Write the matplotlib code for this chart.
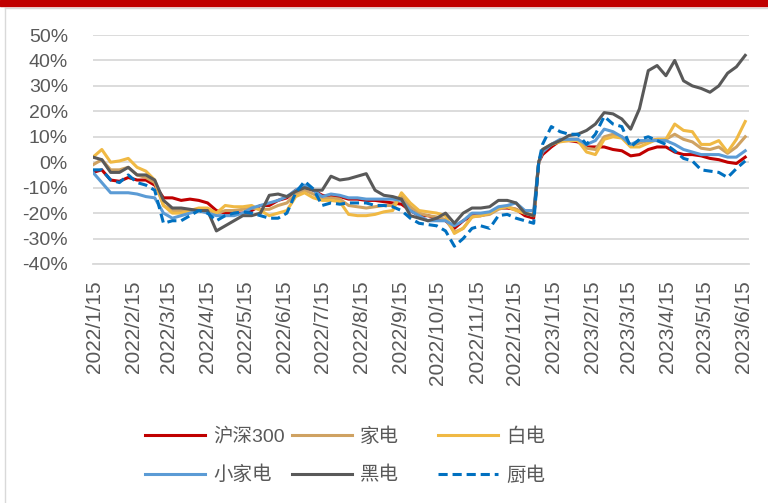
import matplotlib
matplotlib.use('Agg')
import matplotlib.pyplot as plt
from matplotlib.patches import Rectangle
from matplotlib.lines import Line2D
import pandas as pd

plt.rcParams['font.family'] = ['Liberation Sans', 'Noto Sans CJK SC', 'DejaVu Sans']

# weekly points (Fridays) plus the first trading day of 2023
dates = list(pd.date_range('2022-01-14', '2023-06-16', freq='W-FRI'))
dates.insert(51, pd.Timestamp('2023-01-03'))

hs300 = [-4, -3, -7, -7.5, -6, -7, -7, -9, -14, -14,
         -15, -14.5, -15, -16, -19, -20, -20, -20, -19, -17,
         -17, -15, -14, -11, -10, -11, -13, -13.5, -13.5, -14.5,
         -14.5, -15, -15, -15.5, -16, -16.5, -19, -21, -21, -22,
         -23, -26, -23, -21, -21, -20, -18, -18, -18.5, -21,
         -22, 0,
         3, 6, 8.5, 8.5, 8, 6, 6, 6,
         5, 4.5, 2.5, 3, 5, 6, 6, 4, 3, 3,
         2.5, 1.5, 1, 0, -0.5, 2]
jiadian = [-1, 1, -3, -3, -2, -5, -6, -8, -17, -19,
           -19, -19, -18.5, -19, -20, -19, -19, -18.5, -18, -18.5,
           -18.5, -17, -16, -12.5, -11, -12.5, -14.5, -14, -14.5, -17,
           -17.5, -18, -17.5, -17, -17, -13.5, -17.5, -20, -21, -21.5,
           -22.5, -27.5, -26, -21.5, -21, -20.5, -18.5, -17.5, -18.5, -20,
           -21, 0,
           4.5, 7, 8.5, 9, 9, 5.5, 5, 10,
           11, 10, 6.5, 7.5, 8.5, 9, 9, 11, 9, 8,
           5.5, 5, 6, 3.5, 6, 10]
baidian = [2, 5, 0, 0.5, 1.5, -2, -3.5, -7, -17, -20,
           -20, -19, -18, -18, -20, -17, -17.5, -17.5, -17, -19,
           -21, -20, -19, -13.5, -12, -14, -15, -15, -15.5, -20.5,
           -21, -21, -20.5, -19.5, -19, -12, -16, -19, -19.5, -20,
           -21, -28, -26, -21.5, -21, -20, -18, -17.5, -19, -20,
           -21, 0,
           5, 7, 8, 8.5, 8.5, 4, 3, 9,
           10, 9.5, 6, 6, 7.5, 9, 9, 15, 12.5, 12,
           7, 7, 8.5, 4, 9, 16]
xiaojiadian = [-4, -8, -12, -12, -12, -12.5, -13.5, -14, -20, -22,
               -21, -20, -19, -20, -21, -21, -21, -20, -18, -17,
               -16, -15, -13.5, -11, -9, -11, -13.5, -12.5, -13, -14,
               -14, -14.5, -14.5, -14.5, -14.5, -15, -19, -21, -23, -23,
               -23, -25, -23, -20, -20, -19.5, -17.5, -17, -16, -19,
               -19, 0,
               4, 7, 9, 9, 9, 7, 8.5, 13,
               12, 10, 7, 8.5, 8.5, 8.5, 8.5, 7, 5, 4,
               3, 3, 3, 2, 2, 4.5]
heidian = [2, 1, -4, -4, -2, -5, -5, -7, -15, -18,
           -18, -18.5, -19, -19, -27, -25, -23, -21, -21, -20,
           -13, -12.5, -13.5, -11.5, -10, -11, -11, -5.5, -7, -6.5,
           -5.5, -4.5, -11, -13, -13.5, -14.5, -21, -22, -23, -22,
           -20, -24, -20, -18, -18, -17.5, -15, -15, -16, -20,
           -21, 0,
           5, 7, 8.5, 10.5, 11, 12.5, 15, 19.5,
           19, 17, 13, 21, 36, 38, 34, 40, 32, 30,
           29, 27.5, 30, 35, 37.5, 42]
chudian = [-3, -3, -7, -8, -5, -8, -9, -11, -24, -23,
           -23, -21, -19, -20, -23, -21, -20, -19.5, -20, -21,
           -22, -22, -20, -12, -7.5, -10.5, -17, -16, -16.5, -16,
           -16, -16, -17, -17, -17.5, -19, -22, -24, -24.5, -25,
           -27, -33, -30, -26, -25, -26, -21, -20.5, -22, -23,
           -24, 0,
           7, 14, 12, 11, 11, 7, 11, 18,
           15, 14, 6, 9, 10, 8.5, 7, 4.5, 1.5, 0.5,
           -3, -3.5, -4, -6, -2.5, 0.5]

names = ['沪深300', '家电', '白电', '小家电', '黑电', '厨电']
tick_dates = pd.date_range('2022-01-01', '2023-06-01', freq='MS') + pd.Timedelta(days=14)
tick_labels = ['%d/%d/15' % (d.year, d.month) for d in tick_dates]

fig = plt.figure(figsize=(7.68, 5.03), dpi=100)
fig.add_artist(Rectangle((0, 1 - 6 / 503), 1, 6 / 503, transform=fig.transFigure,
                         color='#C00000', zorder=10))
fig.add_artist(Line2D([5 / 768, 1], [1 - 8 / 503] * 2, transform=fig.transFigure,
                      color='#D9D9D9', lw=1))
fig.add_artist(Line2D([5 / 768] * 2, [0, 1 - 8 / 503], transform=fig.transFigure,
                      color='#D9D9D9', lw=1))

ax = fig.add_axes([93 / 768, (503 - 264) / 503, 656 / 768, 229 / 503])
lw = 2.2
l1, = ax.plot(dates, hs300, color='#C00000', lw=lw)
l2, = ax.plot(dates, jiadian, color='#CFA262', lw=lw)
l3, = ax.plot(dates, baidian, color='#F0B944', lw=lw)
l4, = ax.plot(dates, xiaojiadian, color='#5B9BD5', lw=lw)
l5, = ax.plot(dates, heidian, color='#595959', lw=lw)
l6, = ax.plot(dates, chudian, color='#0070C0', lw=lw, ls=(0, (3, 1.6)))
lines = [l1, l2, l3, l4, l5, l6]

ax.set_ylim(-40, 50)
ax.set_yticks(range(-40, 51, 10))
ax.set_yticklabels(['%d%%' % v for v in range(-40, 51, 10)])
ax.set_xlim(pd.Timestamp('2022-01-14'), pd.Timestamp('2023-06-19'))
ax.set_xticks(tick_dates)
ax.set_xticklabels(tick_labels, rotation=90)
ax.grid(axis='y', color='#D9D9D9', lw=1.3)
ax.set_axisbelow(True)
for s in ['top', 'right', 'left']:
    ax.spines[s].set_visible(False)
ax.spines['bottom'].set_color('#D9D9D9')
ax.spines['bottom'].set_linewidth(1.3)
ax.tick_params(length=0, labelsize=14, labelcolor='#595959')
ax.tick_params(axis='x', labelsize=15, pad=12)
ax.tick_params(axis='y', pad=18)

col_x = [145, 292, 438]
for j in range(3):
    fig.legend(handles=[lines[j], lines[j + 3]], labels=[names[j], names[j + 3]],
               loc='center left', bbox_to_anchor=(col_x[j] / 768, 1 - 456 / 503),
               frameon=False, fontsize=14, handlelength=3.1, handletextpad=0.4,
               labelspacing=1.05, borderpad=0, borderaxespad=0, labelcolor='#595959')

fig.savefig('out.png', dpi=100)
